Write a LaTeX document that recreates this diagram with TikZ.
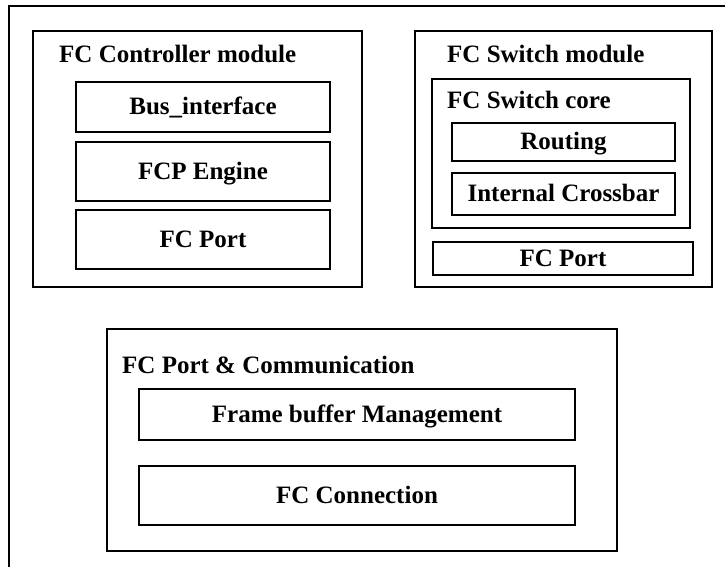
\documentclass[tikz,border=0pt]{standalone}
\usepackage{fontspec}
\setmainfont{Liberation Serif}
\usetikzlibrary{fit}
\begin{document}
\begin{tikzpicture}[x=1pt,y=-1pt,
  box/.style={draw, line width=1.4pt, inner sep=0pt, rectangle},
  txt/.style={font=\fontsize{25}{28}\selectfont\bfseries, inner sep=0pt},
  ttl/.style={txt, anchor=base west},
  lbl/.style={txt, anchor=base}]
\useasboundingbox (0,0) rectangle (725,566);
\draw[line width=1.4pt] (9,567) -- (9,6) -- (726,6);
% Controller module
\node[box, fit={(33,31)(362,287)}] (ctrl) {};
\node[ttl] (ctrlT) at (59,62) {FC Controller module};
\node[box, fit={(76,82)(330,132)}] (bus) {};
\node[lbl] (busT) at ([yshift=-7.5pt]bus.center) {Bus\_interface};
\node[box, fit={(76,142)(330,201)}] (fcp) {};
\node[lbl] (fcpT) at ([yshift=-7.5pt]fcp.center) {FCP Engine};
\node[box, fit={(76,210)(330,269)}] (port1) {};
\node[lbl] (port1T) at ([yshift=-7.5pt]port1.center) {FC Port};
% Switch module
\node[box, fit={(415,31)(712,287)}] (sw) {};
\node[ttl] (swT) at (447,62) {FC Switch module};
\node[box, fit={(432,79)(690,228)}] (core) {};
\node[ttl] (coreT) at (447,108) {FC Switch core};
\node[box, fit={(452,123)(675,161)}] (routing) {};
\node[lbl] (routingT) at ([yshift=-7.5pt]routing.center) {Routing};
\node[box, fit={(452,173)(675,215)}] (xbar) {};
\node[lbl] (xbarT) at ([yshift=-7.5pt]xbar.center) {Internal Crossbar};
\node[box, fit={(433,242)(693,275)}] (port2) {};
\node[lbl] (port2T) at ([yshift=-7.5pt]port2.center) {FC Port};
% Port & Communication
\node[box, fit={(107,329)(617,551)}] (comm) {};
\node[ttl] (commT) at (122,373) {FC Port \& Communication};
\node[box, fit={(139,389)(575,440)}] (fbm) {};
\node[lbl] (fbmT) at ([yshift=-7.5pt]fbm.center) {Frame buffer Management};
\node[box, fit={(139,466)(575,525)}] (conn) {};
\node[lbl] (connT) at ([yshift=-7.5pt]conn.center) {FC Connection};
\end{tikzpicture}
\end{document}
